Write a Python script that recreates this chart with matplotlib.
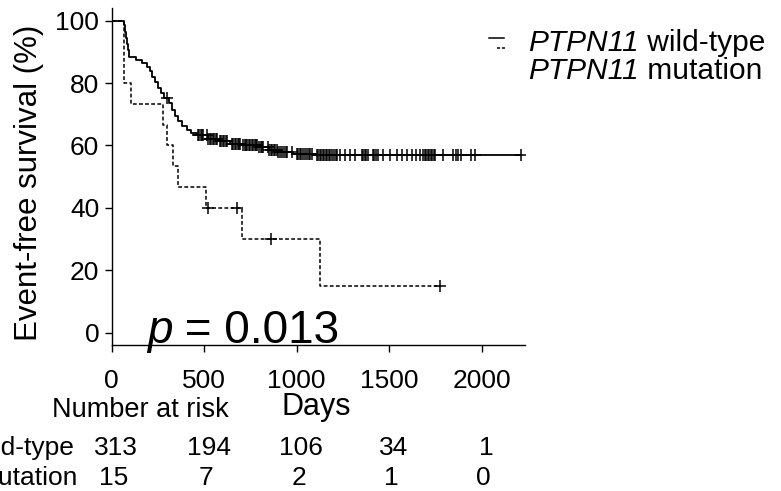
import matplotlib
matplotlib.use('Agg')
import matplotlib.pyplot as plt
import numpy as np
from matplotlib.transforms import blended_transform_factory
from matplotlib.lines import Line2D

plt.rcParams['font.family'] = ['Liberation Sans', 'DejaVu Sans']

# wild-type: event times (days) and survival (%) after each step
wt_time = [0, 66, 72, 78, 84, 90, 96, 130, 165, 190, 205, 220, 235, 250, 265,
           285, 310, 325, 340, 360, 380, 405, 430, 460, 520, 580, 640, 700,
           790, 850, 900, 980, 1100]
wt_surv = [100, 98.5, 96.5, 94.5, 92.5, 90.5, 88.5, 87.5, 86.5, 85.2, 83.8,
           82.0, 80.2, 78.5, 76.8, 75.3, 73.6, 71.5, 69.5, 67.8, 66.4, 65.0,
           64.0, 63.2, 62.2, 61.4, 60.6, 60.0, 59.4, 58.5, 57.9, 57.4, 56.8]
wt_censor = [300, 468, 474, 480, 487, 495, 515, 522, 530, 538, 546, 555, 563,
             569, 585, 592, 600, 608, 616, 624, 650, 657, 665, 672, 680, 687,
             694, 710, 718, 726, 734, 742, 750, 757, 765, 772, 780, 788, 796,
             805, 812, 819, 845, 852, 860, 868, 876, 884, 892, 900, 910, 920,
             930, 940, 947, 974, 1000, 1008, 1016, 1025, 1034, 1044, 1054,
             1064, 1074, 1083, 1110, 1117, 1124, 1132, 1140, 1148, 1156, 1164,
             1172, 1180, 1190, 1200, 1210, 1220, 1234, 1261, 1288, 1315, 1353,
             1360, 1368, 1377, 1386, 1412, 1420, 1428, 1440, 1467, 1505, 1542,
             1570, 1597, 1624, 1645, 1667, 1684, 1692, 1700, 1708, 1716, 1724,
             1732, 1740, 1748, 1791, 1843, 1861, 1872, 1886, 1940, 1964, 2215]

# mutation
mut_time = [0, 65, 105, 277, 299, 331, 358, 508, 704, 1126]
mut_surv = [100, 80, 73.3, 66.7, 60, 53.3, 46.7, 40, 30, 15]
mut_censor = [520, 677, 862, 1775]

risk_days = [0, 500, 1000, 1500, 2000]
risk_wt = [313, 194, 106, 34, 1]
risk_mut = [15, 7, 2, 1, 0]

W, H = 781, 491


def fx(x):
    return x / W


def fy(y):
    return 1 - y / H


def surv_at(times, surv, t):
    idx = np.searchsorted(times, t, side='right') - 1
    return np.asarray(surv)[idx]


fig = plt.figure(figsize=(W / 100, H / 100), dpi=100)
ax_w = (525 - 111.7) / W
ax = fig.add_axes([fx(111.7), fy(345), ax_w, (345 - 8.3) / H])

# wild-type curve
ax.step(wt_time + [wt_censor[-1]], wt_surv + [wt_surv[-1]], where='post',
        color='black', lw=1.3)
ax.plot(wt_censor, surv_at(wt_time, wt_surv, wt_censor), ls='none',
        marker='+', ms=8, mew=1.1, color='black')

# mutation curve
ax.step(mut_time + [mut_censor[-1]], mut_surv + [mut_surv[-1]], where='post',
        color='black', lw=1.1, dashes=(2.5, 1.5))
ax.plot(mut_censor, surv_at(mut_time, mut_surv, mut_censor), ls='none',
        marker='+', ms=8, mew=1.1, color='black')

ax.set_xlim(0, 2234)
ax.set_ylim(-4, 104)
ax.set_xticks(risk_days)
ax.set_yticks([0, 20, 40, 60, 80, 100])
for s in ['top', 'right']:
    ax.spines[s].set_visible(False)
for s in ['left', 'bottom']:
    ax.spines[s].set_linewidth(1.0)
ax.tick_params(axis='both', length=5, width=1, labelsize=19)
ax.tick_params(axis='x', pad=12)
ax.tick_params(axis='y', pad=4)

ax.set_ylabel('Event-free survival (%)', fontsize=22.5)
ax.yaxis.set_label_coords(fx(44 - 111.7) / ax_w, (345 - 182.5) / (345 - 8.3))

# p value
t = ax.text(190, -3.2, 'p', style='italic', fontsize=33, va='baseline')
ax.annotate(' = 0.013', xy=(1, 0), xycoords=t, va='bottom', fontsize=33,
            annotation_clip=False)

fig.text(fx(316.5), fy(407), 'Days', fontsize=22, ha='center', va='center')
fig.text(fx(140), fy(410), 'Number at risk', fontsize=19.5, ha='center',
         va='center')

# risk table
tr = blended_transform_factory(ax.transData, fig.transFigure)
for d, n in zip(risk_days, risk_wt):
    ax.text(d + 25, fy(448), str(n), transform=tr, ha='center', va='center',
            fontsize=19, clip_on=False)
for d, n in zip(risk_days, risk_mut):
    ax.text(d + 10, fy(478), str(n), transform=tr, ha='center', va='center',
            fontsize=19, clip_on=False)
fig.text(fx(75), fy(448), 'Wild-type', fontsize=19, ha='right', va='center')
fig.text(fx(78), fy(478), 'Mutation', fontsize=19, ha='right', va='center')

# legend
for yb, label in [(51, ' wild-type'), (79, ' mutation')]:
    g = fig.text(fx(528), fy(yb), 'PTPN11', style='italic', fontsize=21.5,
                 va='baseline')
    ax.annotate(label, xy=(1, 0), xycoords=g, va='bottom', fontsize=21.5,
                annotation_clip=False)
fig.add_artist(Line2D([fx(489), fx(504)], [fy(38), fy(38)], color='black',
                      lw=1.1))
fig.add_artist(Line2D([fx(497), fx(506)], [fy(48), fy(48)], color='black',
                      lw=1.1, dashes=(2.0, 1.2)))

fig.savefig('out.png', dpi=100)
